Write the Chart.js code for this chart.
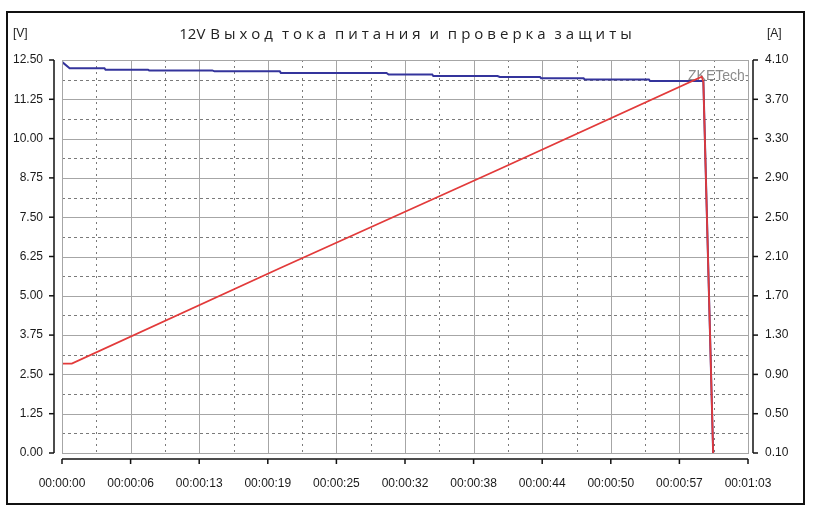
<!DOCTYPE html>
<html>
<head>
<meta charset="utf-8">
<script src="https://cdn.jsdelivr.net/npm/chart.js"></script>
<style>
html,body{margin:0;padding:0;background:#fff;}
#wrap{position:relative;width:815px;height:515px;}
#frame{position:absolute;left:6px;top:11px;width:795px;height:490px;border:2px solid #111;box-sizing:content-box;pointer-events:none;}
#title{position:absolute;left:0;width:815px;top:23px;text-align:center;font:15px "Open Sans",sans-serif;letter-spacing:4px;word-spacing:-3px;color:#222;}
#title span{letter-spacing:0}
</style>
</head>
<body>
<div id="wrap">
  <canvas id="chart" width="815" height="515"></canvas>
  <div id="frame"></div>
  <div id="title"><span>12V</span> Выход тока питания и проверка защиты</div>
</div>
<script>
// data, time in seconds
const voltTime = [0, 0.7, 3.9, 4.0, 7.9, 8.0, 13.8, 14.0, 20.0, 20.1, 29.8, 30.0, 34.0, 34.1, 40.0, 40.2, 43.9, 44.0, 47.9, 48.0, 53.9, 54.0, 58.9, 59.8];
const voltage  = [12.44, 12.24, 12.24, 12.19, 12.19, 12.17, 12.17, 12.14, 12.14, 12.09, 12.09, 12.04, 12.04, 11.99, 11.99, 11.96, 11.96, 11.92, 11.92, 11.88, 11.88, 11.83, 11.83, 0];
const currTime = [0, 0.9, 20.0, 40.0, 58.75, 58.9, 59.8];
const current  = [1.01, 1.01, 1.98, 2.98, 3.93, 3.88, 0.10];

const xTicks  = [0, 6.3, 12.6, 18.9, 25.2, 31.5, 37.8, 44.1, 50.4, 56.7, 63];
const xLabels = ['00:00:00','00:00:06','00:00:13','00:00:19','00:00:25','00:00:32','00:00:38','00:00:44','00:00:50','00:00:57','00:01:03'];
const vTicks  = [0, 1.25, 2.5, 3.75, 5, 6.25, 7.5, 8.75, 10, 11.25, 12.5];
const aTicks  = [0.1, 0.5, 0.9, 1.3, 1.7, 2.1, 2.5, 2.9, 3.3, 3.7, 4.1];

const font = {family:'"Liberation Sans", Arial, sans-serif', size:12};

const chartDeco = {
  id:'chartDeco',
  beforeDatasetsDraw(chart){
    const {ctx, chartArea:a, scales} = chart;
    const x = scales.x, y = scales.y;
    ctx.save();
    // dashed half grid
    ctx.strokeStyle = '#7a7a7a'; ctx.lineWidth = 1; ctx.setLineDash([3,3]);
    for (let i=0;i<vTicks.length-1;i++){
      const p = Math.round(y.getPixelForValue((vTicks[i]+vTicks[i+1])/2))+0.5;
      ctx.beginPath(); ctx.moveTo(a.left,p); ctx.lineTo(a.right,p); ctx.stroke();
    }
    ctx.setLineDash([2,4]);
    for (let i=0;i<xTicks.length-1;i++){
      const p = Math.round(x.getPixelForValue((xTicks[i]+xTicks[i+1])/2))+0.5;
      ctx.beginPath(); ctx.moveTo(p,a.top); ctx.lineTo(p,a.bottom); ctx.stroke();
    }
    // solid main grid
    ctx.setLineDash([]); ctx.strokeStyle = '#a6a6a6';
    vTicks.forEach(v=>{
      const p = Math.round(y.getPixelForValue(v))+0.5;
      ctx.beginPath(); ctx.moveTo(a.left,p); ctx.lineTo(a.right,p); ctx.stroke();
    });
    xTicks.forEach(v=>{
      const p = Math.round(x.getPixelForValue(v))+0.5;
      ctx.beginPath(); ctx.moveTo(p,a.top); ctx.lineTo(p,a.bottom); ctx.stroke();
    });
    // watermark
    ctx.beginPath(); ctx.rect(a.left,a.top,a.right-a.left,a.bottom-a.top); ctx.clip();
    ctx.fillStyle = '#8c8c8c'; ctx.font = '14px "Liberation Sans", Arial, sans-serif';
    ctx.textBaseline = 'middle';
    ctx.fillText('ZKETech-', 688, 76);
    ctx.restore();
  },
  afterDraw(chart){
    const {ctx, chartArea:a, scales} = chart;
    const x = scales.x, y = scales.y, y2 = scales.y2;
    ctx.save();
    ctx.strokeStyle = '#111'; ctx.lineWidth = 1.5;
    // left axis
    const lx = a.left - 8;
    ctx.beginPath(); ctx.moveTo(lx, a.top); ctx.lineTo(lx, a.bottom); ctx.stroke();
    vTicks.forEach(v=>{
      const p = y.getPixelForValue(v);
      ctx.beginPath(); ctx.moveTo(lx-5,p); ctx.lineTo(lx,p); ctx.stroke();
    });
    // right axis
    const rx = a.right + 5;
    ctx.beginPath(); ctx.moveTo(rx, a.top); ctx.lineTo(rx, a.bottom); ctx.stroke();
    aTicks.forEach(v=>{
      const p = y2.getPixelForValue(v);
      ctx.beginPath(); ctx.moveTo(rx,p); ctx.lineTo(rx+5,p); ctx.stroke();
    });
    // bottom axis
    const by = a.bottom + 6;
    ctx.beginPath(); ctx.moveTo(a.left, by); ctx.lineTo(a.right, by); ctx.stroke();
    xTicks.forEach(v=>{
      const p = x.getPixelForValue(v);
      ctx.beginPath(); ctx.moveTo(p,by); ctx.lineTo(p,by+5); ctx.stroke();
    });
    // frame of plot
    ctx.strokeStyle = '#a6a6a6'; ctx.lineWidth = 1;
    ctx.strokeRect(a.left+0.5, a.top+0.5, a.right-a.left, a.bottom-a.top);
    // unit labels
    ctx.fillStyle = '#222'; ctx.font = '12px "Liberation Sans", Arial, sans-serif';
    ctx.textBaseline = 'middle';
    ctx.textAlign = 'left'; ctx.fillText('[V]', 13, 34);
    ctx.fillText('[A]', 767, 34);
    ctx.restore();
  }
};

new Chart(document.getElementById('chart'), {
  type:'line',
  data:{
    datasets:[
      {label:'V', data:voltTime.map((t,i)=>({x:t,y:voltage[i]})), yAxisID:'y', order:2,
       borderColor:'#34349c', borderWidth:2, pointRadius:0, tension:0},
      {label:'A', data:currTime.map((t,i)=>({x:t,y:current[i]})), yAxisID:'y2', order:1,
       borderColor:'#e23a3a', borderWidth:1.8, pointRadius:0, tension:0}
    ]
  },
  options:{
    responsive:false, animation:false,
    layout:{padding:{top:60,left:0,right:0,bottom:0}},
    plugins:{legend:{display:false}, tooltip:{enabled:false}, title:{display:false}},
    scales:{
      x:{type:'linear', min:0, max:63,
        afterBuildTicks:s=>{s.ticks = xTicks.map(v=>({value:v}));},
        afterFit:s=>{s.height = 62;},
        ticks:{callback:(v,i)=>xLabels[i], maxRotation:0, autoSkip:false, padding:23, font, color:'#1a1a1a'},
        grid:{display:false, drawTicks:false}, border:{display:false}},
      y:{type:'linear', position:'left', min:0, max:12.5,
        afterBuildTicks:s=>{s.ticks = vTicks.map(v=>({value:v}));},
        afterFit:s=>{s.width = 62;},
        ticks:{callback:v=>v.toFixed(2), padding:19, font, color:'#1a1a1a'},
        grid:{display:false, drawTicks:false}, border:{display:false}},
      y2:{type:'linear', position:'right', min:0.1, max:4.1,
        afterBuildTicks:s=>{s.ticks = aTicks.map(v=>({value:v}));},
        afterFit:s=>{s.width = 67;},
        ticks:{callback:v=>v.toFixed(2), padding:17, font, color:'#1a1a1a'},
        grid:{display:false, drawTicks:false}, border:{display:false}}
    }
  },
  plugins:[chartDeco]
});
</script>
</body>
</html>
